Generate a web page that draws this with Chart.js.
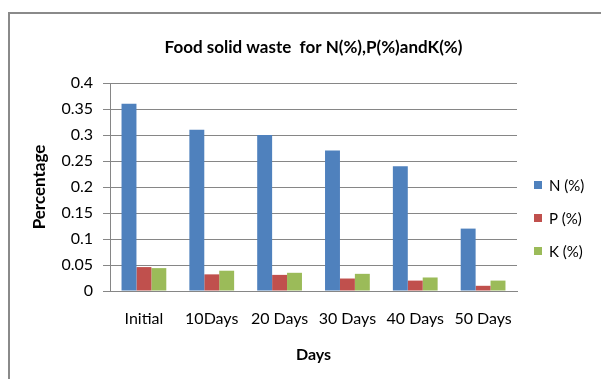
<!DOCTYPE html>
<html>
<head>
<meta charset="utf-8">
<script src="https://cdn.jsdelivr.net/npm/chart.js@4/dist/chart.umd.min.js"></script>
<style>
  html, body { margin: 0; padding: 0; background: #fff; width: 601px; height: 379px; overflow: hidden; }
  #frame { position: absolute; left: 8px; top: 12px; width: 700px; height: 500px; border: 1px solid #8a8a8a; border-width: 2px 0 0 2px; box-sizing: border-box; }
  #c { position: absolute; left: 0; top: 0; }
</style>
</head>
<body>
<div id="frame"></div>
<canvas id="c" width="601" height="379"></canvas>
<script>
// Nutrient content of food solid waste over composting time
const categories = ['Initial', '10Days', '20 Days', '30 Days', '40 Days', '50 Days'];
const nitrogen   = [0.36, 0.31, 0.30, 0.27, 0.24, 0.12];
const phosphorus = [0.046, 0.032, 0.031, 0.024, 0.020, 0.010];
const potassium  = [0.044, 0.039, 0.035, 0.033, 0.026, 0.020];
const seriesNames = ['N (%)', 'P (%)', 'K (%)'];
const seriesColors = ['#4F81BD', '#C0504D', '#9BBB59'];

const chartTitle = 'Food solid waste  for N(%),P(%)andK(%)';
const FONT = 'Lato, "Open Sans", sans-serif';

// Title centred over the plot area, legend to the right
const decorations = {
  id: 'decorations',
  afterDraw(chart) {
    const ctx = chart.ctx;
    const area = chart.chartArea;
    ctx.save();
    ctx.fillStyle = '#000';
    ctx.font = 'bold 17px ' + FONT;
    ctx.textAlign = 'center';
    ctx.textBaseline = 'middle';
    ctx.fillText(chartTitle, (area.left + area.right) / 2, 48);

    ctx.font = '15px ' + FONT;
    ctx.textAlign = 'left';
    chart.data.datasets.forEach((ds, i) => {
      const y = 185 + i * 33;
      ctx.fillStyle = ds.backgroundColor;
      ctx.fillRect(534, y - 4, 8, 8);
      ctx.fillStyle = '#000';
      ctx.fillText(ds.label, 549, y + 1);
    });
    ctx.restore();
  }
};

new Chart(document.getElementById('c'), {
  type: 'bar',
  data: {
    labels: categories,
    datasets: [
      { label: seriesNames[0], data: nitrogen,   backgroundColor: seriesColors[0] },
      { label: seriesNames[1], data: phosphorus, backgroundColor: seriesColors[1] },
      { label: seriesNames[2], data: potassium,  backgroundColor: seriesColors[2] }
    ]
  },
  options: {
    responsive: false,
    animation: false,
    devicePixelRatio: 1,
    layout: { padding: { left: 10, top: 83, right: 84, bottom: 15 } },
    datasets: { bar: { categoryPercentage: 0.66, barPercentage: 1.0 } },
    plugins: {
      legend: { display: false },
      title: { display: false },
      tooltip: { enabled: false }
    },
    scales: {
      x: {
        grid: { display: false, drawTicks: false },
        border: { color: '#868686', width: 1 },
        ticks: { color: '#000', font: { family: FONT, size: 16 }, padding: 18, maxRotation: 0 },
        title: { display: true, text: 'Days', color: '#000', font: { family: FONT, size: 16, weight: 'bold' }, padding: { top: 0, bottom: 0 } },
        afterFit(scale) { scale.height = 73; }
      },
      y: {
        min: 0,
        max: 0.4,
        ticks: {
          stepSize: 0.05,
          color: '#000',
          font: { family: FONT, size: 16 },
          padding: 10,
          callback: (v) => String(Number(v.toFixed(2)))
        },
        grid: { color: '#868686', tickLength: 7, drawTicks: true },
        border: { color: '#868686', width: 1 },
        title: { display: true, text: 'Percentage', color: '#000', font: { family: FONT, size: 17, weight: 'bold' }, padding: { top: 19, bottom: 0 } },
        afterFit(scale) { scale.width = 100; }
      }
    }
  },
  plugins: [decorations]
});
</script>
</body>
</html>
